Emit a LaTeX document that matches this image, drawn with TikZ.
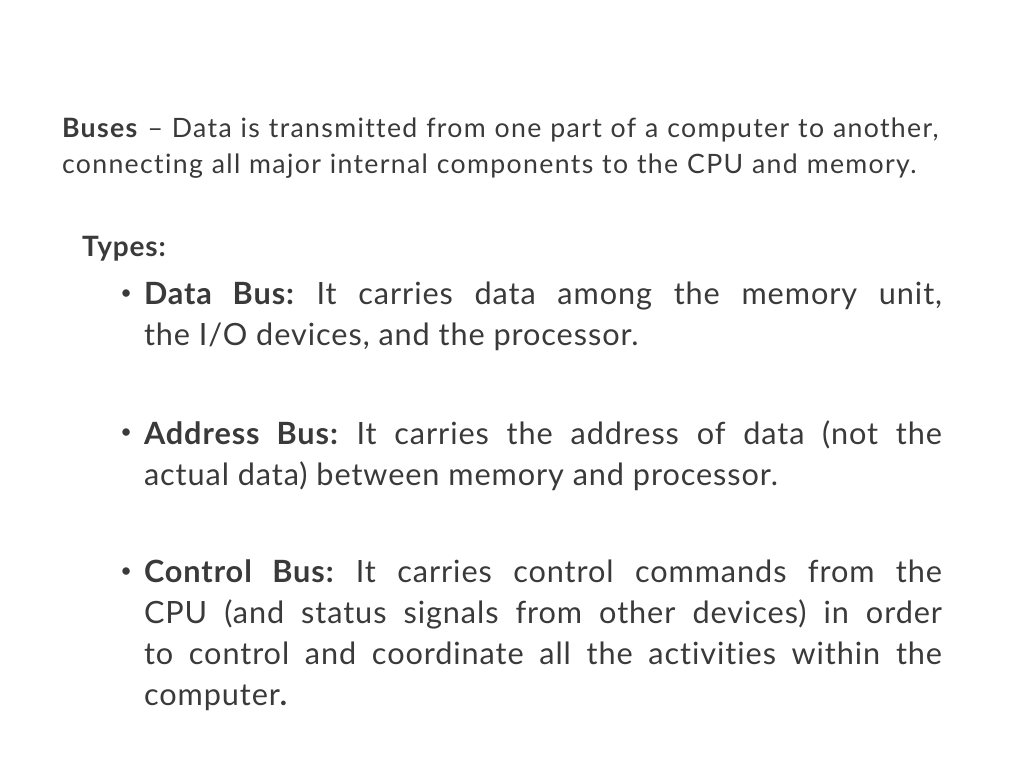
\documentclass[tikz,border=0pt]{standalone}
\usepackage{fontspec}
\setmainfont{Lato}[Ligatures={NoCommon},LetterSpace=3]
\usepackage{xcolor}
\definecolor{inkgray}{HTML}{3A3A3A}
\frenchspacing
\begin{document}
\begin{tikzpicture}[x=0.75pt,y=-0.75pt,
  every node/.style={inner sep=0pt,outer sep=0pt,text=inkgray,anchor=north west},
  headtext/.style={text width=700pt,align=left,font=\fontsize{20}{27}\selectfont\addfontfeature{LetterSpace=5}},
  itemtext/.style={text width=598.5pt,align=justify,font=\fontsize{23}{30.75}\selectfont},
  dot/.style={font=\fontsize{15}{30.75}\selectfont}]
  % Frame
  \useasboundingbox[fill=white] (0,0) rectangle (1024,768);
  % Heading
  \node[headtext] (intro) at (62,118) {\textbf{Buses} -- Data is transmitted from one part of a computer to another,\\ connecting all major internal components to the CPU and memory.};
  \node[font=\fontsize{21}{30.75}\selectfont\bfseries] (types) at (82,236) {Types:};
  % Items
  \node[itemtext] (databus) at (144,282) {\textbf{Data Bus:} It carries data among the memory unit,\linebreak the I/O devices, and the processor.};
  \node[itemtext] (addrbus) at (144,421) {\textbf{Address Bus:} It carries the address of data (not the\linebreak actual data) between memory and processor.};
  \node[itemtext] (ctrlbus) at (144,560) {\textbf{Control Bus:} It carries control commands from the\linebreak CPU (and status signals from other devices) in order\linebreak to control and coordinate all the activities within the\linebreak computer\textbf{.}};
  \foreach \n in {databus, addrbus, ctrlbus}
    \node[dot,anchor=north east] at ([xshift=-9pt,yshift=-6pt]\n.north west) {•};
\end{tikzpicture}
\end{document}
